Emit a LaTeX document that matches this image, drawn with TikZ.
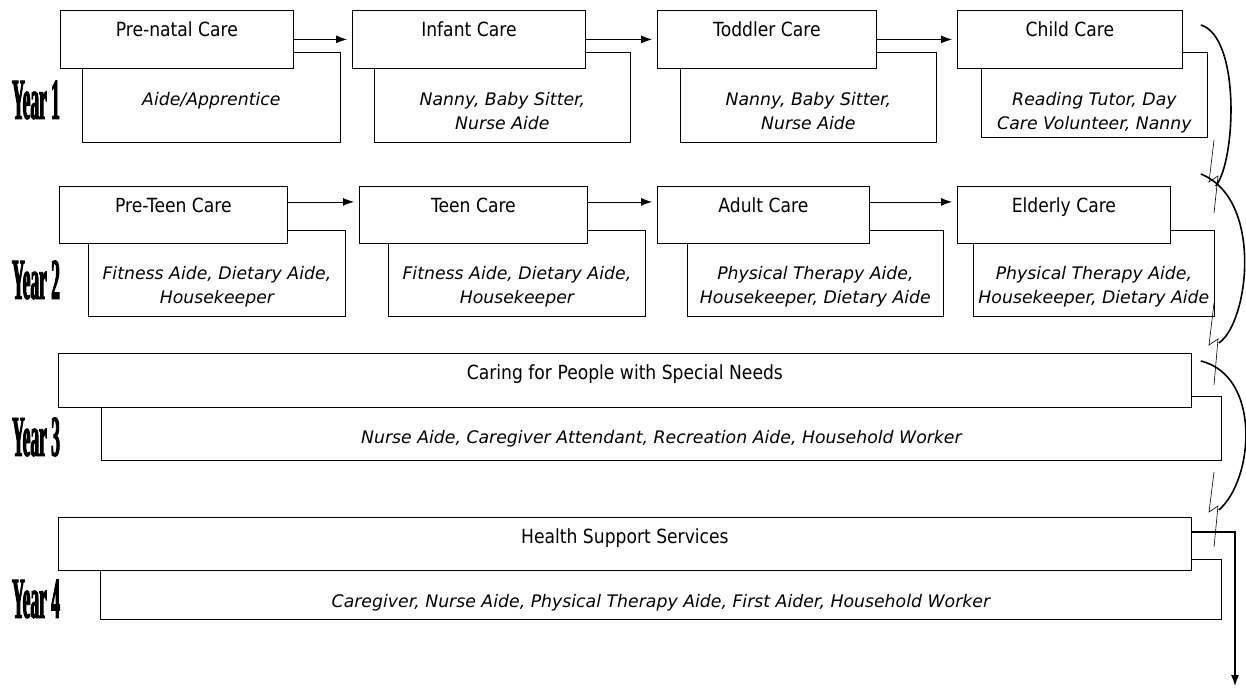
\documentclass[tikz,border=0pt]{standalone}
\usepackage{fontspec}
\usepackage{tikz}
\usetikzlibrary{arrows.meta}
\newfontfamily\boxfont[FakeStretch=0.88]{DejaVu Sans}
\newfontfamily\jobfont{DejaVu Sans}
\newfontfamily\yearfont[FakeStretch=0.3,FakeBold=1.5]{Liberation Serif}

\begin{document}
\begin{tikzpicture}[x=1pt,y=-1pt,>={Latex[length=11pt,width=8pt]},line width=0.8pt,
    stage/.style={rectangle,draw,fill=white,anchor=north west,inner sep=4pt,text height=22pt,font=\boxfont\fontsize{19.5}{22}\selectfont},
    roles/.style={rectangle,draw,fill=white,anchor=north west,inner sep=4pt,align=center,font=\jobfont\itshape\fontsize{17.3}{24}\selectfont},
    year/.style={inner sep=0pt,font=\yearfont\bfseries\fontsize{58}{58}\selectfont},
    flow/.style={->,shorten >=5pt},
    curl/.style={line width=1.6pt},
    bolt/.style={line width=0.6pt}]

    \useasboundingbox (0,0) rectangle (1246,690);

    % Year labels
    \node[year] (year1) at (36,100) {Year 1};
    \node[year] (year2) at (36,280) {Year 2};
    \node[year] (year3) at (36,437) {Year 3};
    \node[year] (year4) at (36,599) {Year 4};

    % Year 1
    \node[roles,minimum width=258pt,text height=49pt,text depth=33pt] (prenatalJobs) at (82,52) {Aide/Apprentice};
    \node[roles,minimum width=256pt,text height=73pt,text depth=9pt] (infantJobs) at (374,52) {Nanny, Baby Sitter,\\Nurse Aide};
    \node[roles,minimum width=256pt,text height=73pt,text depth=9pt] (toddlerJobs) at (680,52) {Nanny, Baby Sitter,\\Nurse Aide};
    \node[roles,minimum width=226pt,text height=73pt,text depth=4pt] (childJobs) at (981,52) {Reading Tutor, Day\\Care Volunteer, Nanny};
    \node[stage,minimum width=233pt,text depth=28pt] (prenatal) at (60,10) {Pre-natal Care};
    \node[stage,minimum width=233pt,text depth=28pt] (infant) at (352,10) {Infant Care};
    \node[stage,minimum width=219pt,text depth=28pt] (toddler) at (657,10) {Toddler Care};
    \node[stage,minimum width=225pt,text depth=28pt] (child) at (957,10) {Child Care};

    % Year 2
    \node[roles,minimum width=257pt,text height=69pt,text depth=9pt] (preteenJobs) at (88,230) {Fitness Aide, Dietary Aide,\\Housekeeper};
    \node[roles,minimum width=257pt,text height=69pt,text depth=9pt] (teenJobs) at (388,230) {Fitness Aide, Dietary Aide,\\Housekeeper};
    \node[roles,minimum width=256pt,text height=69pt,text depth=9pt] (adultJobs) at (687,230) {Physical Therapy Aide,\\Housekeeper, Dietary Aide};
    \node[roles,minimum width=241pt,text height=69pt,text depth=9pt] (elderlyJobs) at (973,230) {Physical Therapy Aide,\\Housekeeper, Dietary Aide};
    \node[stage,minimum width=228pt,text depth=27pt] (preteen) at (59,186) {Pre-Teen Care};
    \node[stage,minimum width=228pt,text depth=27pt] (teen) at (359,186) {Teen Care};
    \node[stage,minimum width=212pt,text depth=27pt] (adult) at (657,186) {Adult Care};
    \node[stage,minimum width=213pt,text depth=27pt] (elderly) at (957,186) {Elderly Care};

    % Year 3 and 4
    \node[roles,minimum width=1120pt,text height=43pt,text depth=13pt] (specialJobs) at (101,396) {Nurse Aide, Caregiver Attendant, Recreation Aide, Household Worker};
    \node[stage,minimum width=1133pt,text depth=24pt] (special) at (58,353) {Caring for People with Special Needs};
    \node[roles,minimum width=1121pt,text height=44pt,text depth=8pt] (healthJobs) at (100,559) {Caregiver, Nurse Aide, Physical Therapy Aide, First Aider, Household Worker};
    \node[stage,minimum width=1133pt,text depth=23pt] (health) at (58,517) {Health Support Services};

    % Paths
    \draw[flow] (prenatal) -- (infant);
    \draw[flow] (infant) -- (toddler);
    \draw[flow] (toddler) -- (child);
    \draw[flow] ([yshift=13pt]preteen.east) -- ([yshift=13pt]teen.west);
    \draw[flow] ([yshift=13pt]teen.east) -- ([yshift=13pt]adult.west);
    \draw[flow] ([yshift=13pt]adult.east) -- ([yshift=13pt]elderly.west);

    % turn-over to the next year
    \coordinate (oneOut) at ([xshift=18pt,yshift=-15pt]child.north east);
    \coordinate (twoIn) at ([xshift=45pt]elderly.north east);
    \coordinate (twoOut) at ([xshift=30pt,yshift=12pt]elderly.north east);
    \coordinate (threeIn) at ([xshift=27pt,yshift=10pt]special.north east);
    \coordinate (threeOut) at ([xshift=9pt,yshift=-8pt]special.north east);
    \coordinate (fourIn) at ([xshift=27pt,yshift=7pt]health.north east);
    \coordinate (done) at (1235,686);

    \draw[curl] (oneOut) .. controls +(40,12) and +(20,-25) .. (twoIn);
    \draw[curl] (twoOut) .. controls +(63,25) and +(30,-20) .. (threeIn);
    \draw[curl] (threeOut) .. controls +(61,15) and +(35,-30) .. (fourIn);
    \draw[bolt] (1214,140) -- (1209,182) -- (1218,176) -- (1214,213);
    \draw[bolt] (1214,303) -- (1209,345) -- (1218,339) -- (1214,385);
    \draw[bolt] (1214,472) -- (1209,512) -- (1218,506) -- (1214,547);
    \draw[->,line width=1.2pt] ([yshift=-15pt]health.north east) -| (done);

  \end{tikzpicture}
\end{document}
